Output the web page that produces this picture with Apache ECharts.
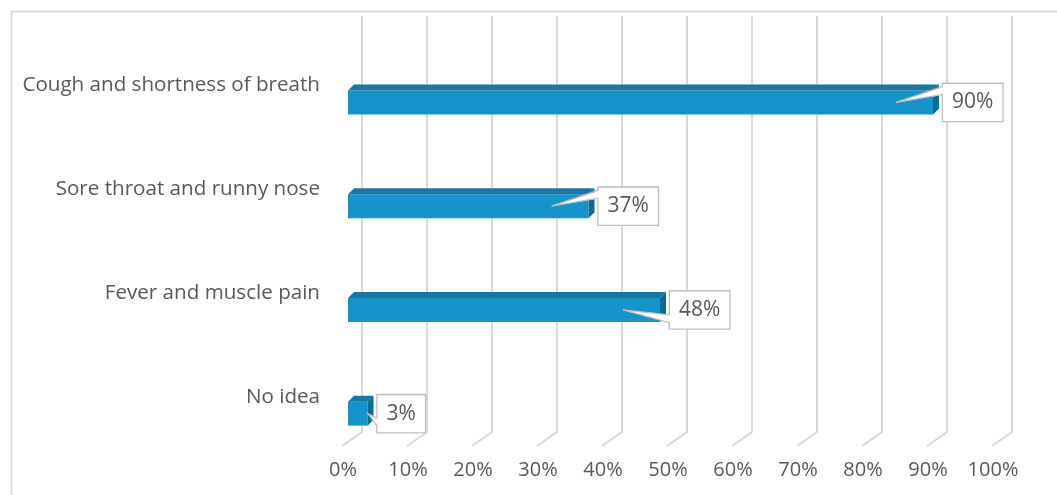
<!DOCTYPE html>
<html>
<head>
<meta charset="utf-8">
<script src="https://cdn.jsdelivr.net/npm/echarts@6/dist/echarts.min.js"></script>
<style>
  html, body { margin: 0; padding: 0; background: #ffffff; }
  #chart { width: 1057px; height: 495px; }
</style>
</head>
<body>
<div id="chart"></div>
<script>
// Symptom awareness, share of respondents
const categories = [
  'Cough and shortness of breath',
  'Sore throat and runny nose',
  'Fever and muscle pain',
  'No idea'
];
const values = [90, 37, 48, 3];
const tickValues = [0, 10, 20, 30, 40, 50, 60, 70, 80, 90, 100];
// where each callout's pointer leaves its label box
const calloutSide = ['top', 'top', 'bottom', 'bottom'];

const FONT = '"Open Sans", sans-serif';
const TEXT = '#595959';
const WALL = '#d9d9d9';
const FRONT = '#1593cb';
const TOP = '#1b76a3';
const SIDE = '#0e6a92';

const chart = echarts.init(document.getElementById('chart'));

// depth of the 3D box: back wall sits up/right of the bar plane, floor edge down/left
const BACK_DX = 14, BACK_DY = -14;
const FRONT_DX = -6;
const BAR_H = 24, BAR_D = 6;

function renderWall(params, api) {
  const cs = params.coordSys;
  const x = api.coord([api.value(0), 0])[0];
  const top = cs.y - 34.5;
  const backBottom = cs.y + cs.height - 33.5;
  const frontBottom = backBottom - BACK_DY;
  return {
    type: 'polyline',
    shape: { points: [[x + BACK_DX, top], [x + BACK_DX, backBottom], [x + FRONT_DX, frontBottom]] },
    style: { stroke: WALL, lineWidth: 2, fill: null }
  };
}

function renderBar(params, api) {
  const v = api.value(0);
  const idx = api.value(1);
  const p0 = api.coord([0, idx]);
  const p1 = api.coord([v, idx]);
  const x0 = p0[0], x1 = p1[0], cy = p0[1];
  const top = cy - BAR_H / 2, bot = cy + BAR_H / 2;
  const d = BAR_D;

  const boxLeft = x1 + d + 4;
  const side = calloutSide[params.dataIndex];
  const base = side === 'top' ? [cy - 16, cy - 8] : side === 'bottom' ? [cy + 5, cy + 13] : [cy - 4, cy + 4];
  const tip = [Math.max(boxLeft - 47, x0 + 20), cy];

  return {
    type: 'group',
    children: [
      { type: 'rect', shape: { x: x0, y: top, width: x1 - x0, height: bot - top }, style: { fill: FRONT } },
      { type: 'polygon', shape: { points: [[x0, top], [x0 + d, top - d], [x1 + d, top - d], [x1, top]] }, style: { fill: TOP } },
      { type: 'polygon', shape: { points: [[x1, top], [x1 + d, top - d], [x1 + d, bot - d], [x1, bot]] }, style: { fill: SIDE } },
      {
        type: 'text',
        x: boxLeft, y: cy,
        style: {
          text: v + '%',
          align: 'left', verticalAlign: 'middle',
          fill: TEXT, font: '21px ' + FONT, lineHeight: 21,
          backgroundColor: '#ffffff', borderColor: '#bfbfbf', borderWidth: 1.3,
          padding: [8, 9, 8, 9]
        }
      },
      { type: 'polygon', shape: { points: [[boxLeft + 1.5, base[0]], [boxLeft + 1.5, base[1]], tip] }, style: { fill: '#ffffff' } },
      { type: 'polyline', shape: { points: [[boxLeft, base[0]], tip, [boxLeft, base[1]]] }, style: { stroke: '#bfbfbf', lineWidth: 1.3, fill: null } }
    ]
  };
}

chart.setOption({
  animation: false,
  backgroundColor: '#ffffff',
  graphic: [{
    type: 'rect', left: 9, top: 9,
    shape: { width: 1100, height: 600 },
    style: { fill: null, stroke: WALL, lineWidth: 2 }
  }],
  grid: { left: 348, width: 650, top: 50.5, height: 415 },
  xAxis: {
    type: 'value', min: 0, max: 100, interval: 10,
    axisLine: { show: false }, axisTick: { show: false }, splitLine: { show: false },
    axisLabel: {
      formatter: '{value}%', color: TEXT, fontFamily: FONT, fontSize: 20,
      margin: -5, padding: [0, 10, 0, 0]
    }
  },
  yAxis: {
    type: 'category', inverse: true, data: categories,
    axisLine: { show: false }, axisTick: { show: false }, splitLine: { show: false },
    axisLabel: {
      color: TEXT, fontFamily: FONT, fontSize: 20.6, margin: 28,
      verticalAlign: 'bottom', lineHeight: 34
    }
  },
  series: [
    {
      type: 'custom', renderItem: renderWall, z: 1, silent: true,
      data: tickValues.map(t => [t]), encode: { x: 0 }
    },
    {
      type: 'custom', renderItem: renderBar, z: 2, silent: true,
      data: values.map((v, i) => [v, i]), encode: { x: 0, y: 1 }
    }
  ]
});
</script>
</body>
</html>
